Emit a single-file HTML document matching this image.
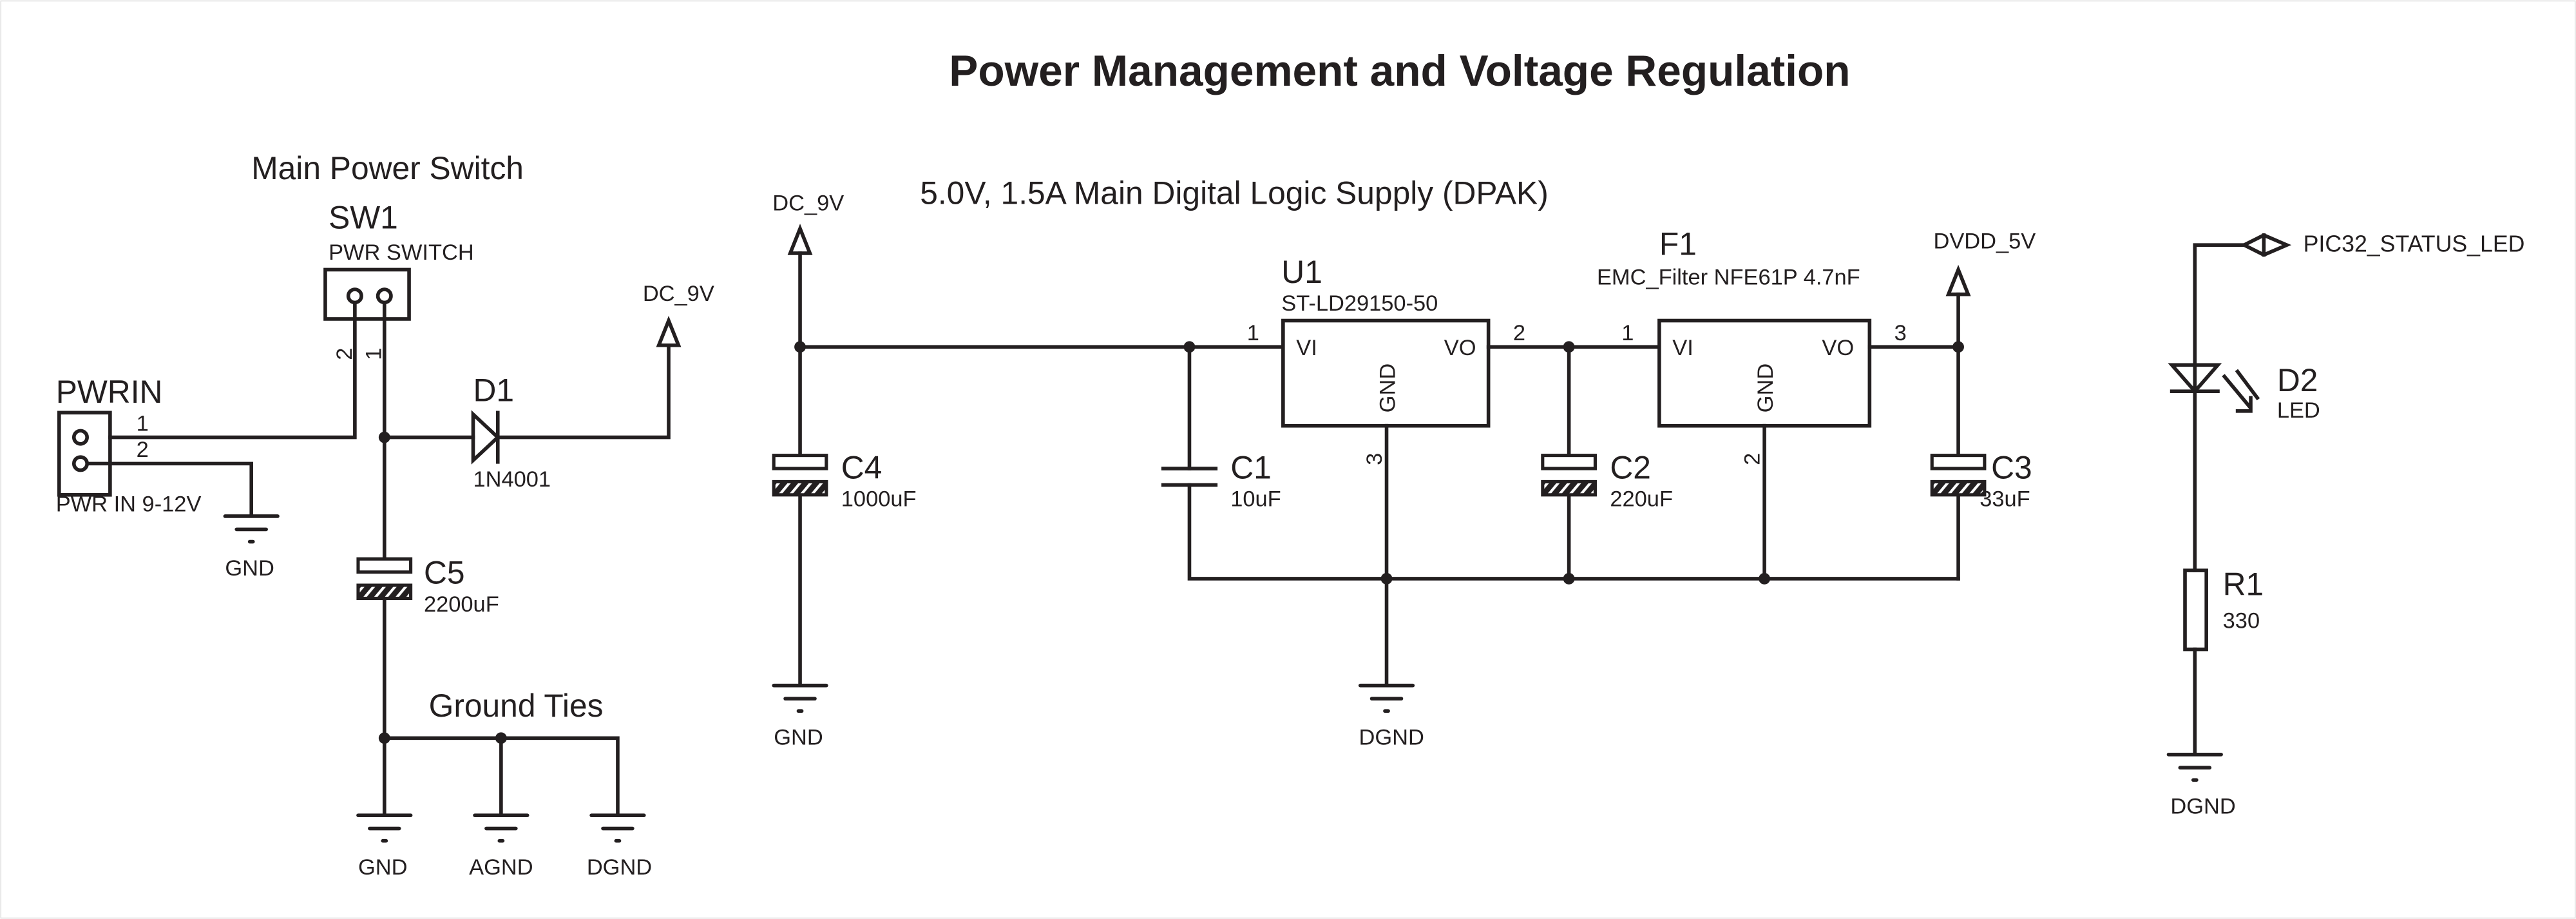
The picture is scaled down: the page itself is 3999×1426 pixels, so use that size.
<!DOCTYPE html>
<html><head><meta charset="utf-8"><style>
html,body{margin:0;padding:0;background:#fff;}
svg{display:block;}
text{font-family:"Liberation Sans Narrow","Liberation Sans",sans-serif;fill:#231f20;}
</style></head><body>
<svg width="3999" height="1426" viewBox="0 0 1568 559" xmlns="http://www.w3.org/2000/svg">
<defs>
<pattern id="h" patternUnits="userSpaceOnUse" width="5" height="5" patternTransform="rotate(40)">
<rect width="5" height="5" fill="#231f20"/><rect x="0" y="0" width="1.6" height="5" fill="#fff"/>
</pattern>
<g id="gnd" stroke="#231f20" stroke-width="2.2" stroke-linecap="round">
<line x1="-16" y1="0" x2="16" y2="0"/><line x1="-9" y1="8" x2="9" y2="8"/><line x1="-1" y1="15.5" x2="1" y2="15.5"/>
</g>
<g id="pcap" stroke="#231f20" stroke-width="2">
<rect x="-16" y="0" width="32" height="8" fill="#fff"/>
<rect x="-16" y="16" width="32" height="8" fill="url(#h)"/>
</g>
</defs>
<rect x="0.5" y="0.5" width="1567" height="558" fill="none" stroke="#ddd" stroke-width="0.6"/>
<text x="852" y="52" text-anchor="middle" style="font-family:'Liberation Sans',sans-serif;font-weight:bold;font-size:26.5px">Power Management and Voltage Regulation</text>

<g stroke="#231f20" stroke-width="2.2" fill="none" stroke-linecap="square">
<rect x="198" y="164" width="51" height="30"/>
<rect x="36" y="251" width="31" height="50"/>
<polyline points="216,185 216,266 67,266"/>
<line x1="234" y1="185" x2="234" y2="340"/>
<polyline points="53,282 153,282 153,313"/>
<line x1="234" y1="266" x2="288" y2="266"/>
<polygon points="288,252 303,266 288,280"/>
<line x1="303" y1="251" x2="303" y2="281"/>
<polyline points="303,266 407,266 407,210"/>
<polygon points="401,210 413,210 407,195"/>
<line x1="234" y1="364" x2="234" y2="495"/>
<polyline points="305,495 305,449 376,449 376,495"/>
<line x1="234" y1="449" x2="305" y2="449"/>
<polygon points="481,154 493,154 487,139"/>
<line x1="487" y1="154" x2="487" y2="277"/>
<line x1="487" y1="301" x2="487" y2="416"/>
<line x1="487" y1="211" x2="780" y2="211"/>
<line x1="724" y1="211" x2="724" y2="285"/>
<line x1="708" y1="285" x2="740" y2="285"/>
<line x1="708" y1="295" x2="740" y2="295"/>
<polyline points="724,295 724,352 1192,352"/>
<rect x="781" y="195" width="125" height="64"/>
<line x1="844" y1="259" x2="844" y2="416"/>
<line x1="906" y1="211" x2="1009" y2="211"/>
<line x1="955" y1="211" x2="955" y2="277"/>
<line x1="955" y1="301" x2="955" y2="352"/>
<rect x="1010" y="195" width="128" height="64"/>
<line x1="1074" y1="259" x2="1074" y2="352"/>
<line x1="1138" y1="211" x2="1192" y2="211"/>
<line x1="1192" y1="179" x2="1192" y2="277"/>
<polygon points="1186,179 1198,179 1192,164"/>
<line x1="1192" y1="301" x2="1192" y2="352"/>
<polyline points="1366,149 1336,149 1336,347"/>
<polygon points="1366,149 1378,143 1392,149 1378,155"/>
<line x1="1378" y1="143" x2="1378" y2="155"/>
<polygon points="1322,222 1350,222 1336,238"/>
<line x1="1322" y1="238" x2="1350" y2="238"/>
<line x1="1354" y1="229" x2="1369" y2="247"/>
<line x1="1362" y1="226" x2="1374" y2="242"/>
<polyline points="1362,250 1370,250 1370,242"/>
<rect x="1330" y="347" width="13" height="48"/>
<line x1="1336" y1="395" x2="1336" y2="458"/>
</g>
<g fill="#fff" stroke="#231f20" stroke-width="2.2">
<circle cx="216" cy="180" r="4"/><circle cx="234" cy="180" r="4"/>
<circle cx="49" cy="266" r="4"/><circle cx="49" cy="282" r="4"/>
</g>
<g fill="#231f20">
<circle cx="234" cy="266" r="3.5"/><circle cx="234" cy="449" r="3.5"/><circle cx="305" cy="449" r="3.5"/>
<circle cx="487" cy="211" r="3.5"/><circle cx="724" cy="211" r="3.5"/><circle cx="955" cy="211" r="3.5"/><circle cx="1192" cy="211" r="3.5"/>
<circle cx="844" cy="352" r="3.5"/><circle cx="955" cy="352" r="3.5"/><circle cx="1074" cy="352" r="3.5"/>
</g>
<use href="#pcap" x="234" y="340"/>
<use href="#pcap" x="487" y="277"/>
<use href="#pcap" x="955" y="277"/>
<use href="#pcap" x="1192" y="277"/>
<use href="#gnd" x="153" y="314"/>
<use href="#gnd" x="234" y="496"/>
<use href="#gnd" x="305" y="496"/>
<use href="#gnd" x="376" y="496"/>
<use href="#gnd" x="487" y="417"/>
<use href="#gnd" x="844" y="417"/>
<use href="#gnd" x="1336" y="459"/>

<g style="font-size:19.5px">
<text x="153" y="109">Main Power Switch</text>
<text x="200" y="139">SW1</text>
<text x="34" y="245">PWRIN</text>
<text x="288" y="244">D1</text>
<text x="258" y="355">C5</text>
<text x="261" y="436">Ground Ties</text>
<text x="560" y="124">5.0V, 1.5A Main Digital Logic Supply (DPAK)</text>
<text x="512" y="291">C4</text>
<text x="749" y="291">C1</text>
<text x="780" y="172">U1</text>
<text x="980" y="291">C2</text>
<text x="1010" y="155">F1</text>
<text x="1212" y="291">C3</text>
<text x="1386" y="238">D2</text>
<text x="1353" y="362">R1</text>
</g>
<g style="font-size:13.5px">
<text x="200" y="158">PWR SWITCH</text>
<text x="34" y="311">PWR IN 9-12V</text>
<text x="83" y="262">1</text><text x="83" y="278">2</text>
<text transform="translate(214,219) rotate(-90)">2</text>
<text transform="translate(232,219) rotate(-90)">1</text>
<text x="152" y="350" text-anchor="middle">GND</text>
<text x="288" y="296">1N4001</text>
<text x="413" y="183" text-anchor="middle">DC_9V</text>
<text x="258" y="372">2200uF</text>
<text x="233" y="532" text-anchor="middle">GND</text>
<text x="305" y="532" text-anchor="middle">AGND</text>
<text x="377" y="532" text-anchor="middle">DGND</text>
<text x="492" y="128" text-anchor="middle">DC_9V</text>
<text x="512" y="308">1000uF</text>
<text x="486" y="453" text-anchor="middle">GND</text>
<text x="749" y="308">10uF</text>
<text x="780" y="189">ST-LD29150-50</text>
<text x="759" y="207">1</text>
<text x="789" y="216">VI</text>
<text x="879" y="216">VO</text>
<text transform="translate(849,251) rotate(-90)">GND</text>
<text transform="translate(841,283) rotate(-90)">3</text>
<text x="921" y="207">2</text>
<text x="980" y="308">220uF</text>
<text x="972" y="173">EMC_Filter NFE61P 4.7nF</text>
<text x="987" y="207">1</text>
<text x="1018" y="216">VI</text>
<text x="1109" y="216">VO</text>
<text transform="translate(1079,251) rotate(-90)">GND</text>
<text transform="translate(1071,283) rotate(-90)">2</text>
<text x="1153" y="207">3</text>
<text x="1208" y="151" text-anchor="middle">DVDD_5V</text>
<text x="1205" y="308">33uF</text>
<text x="847" y="453" text-anchor="middle">DGND</text>
<text x="1402" y="153" style="font-size:14px">PIC32_STATUS_LED</text>
<text x="1386" y="254">LED</text>
<text x="1353" y="382">330</text>
<text x="1341" y="495" text-anchor="middle">DGND</text>
</g>
</svg>
</body></html>
